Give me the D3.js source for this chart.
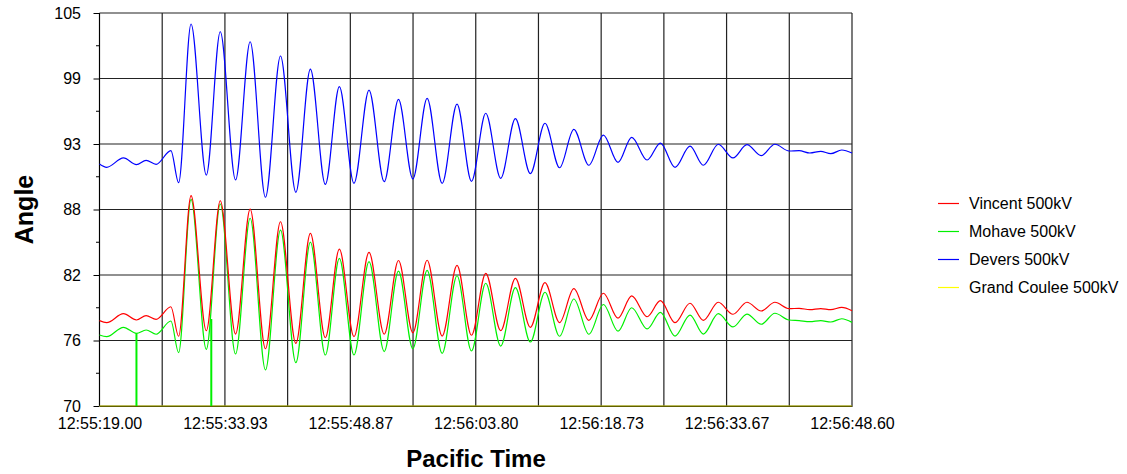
<!DOCTYPE html>
<html>
<head>
<meta charset="utf-8">
<script src="https://cdn.jsdelivr.net/npm/d3@7"></script>
<style>
  body { margin: 0; background: #fff; }
  text { font-family: "Liberation Sans", Arial, sans-serif; fill: #000; }
</style>
</head>
<body>
<div id="chart"></div>
<script>
// seconds after 12:55:19.00, read at the peaks / troughs of the swing
var times = [0, 0.85, 2.85, 4.40, 5.55, 6.74, 8.50,
  9.42, 10.90, 12.72, 14.38, 16.20, 17.94, 19.76, 21.55, 23.38, 25.11,
  26.89, 28.56, 30.30, 32.09, 33.90, 35.60, 37.31, 39.01, 40.80, 42.57,
  44.29, 45.99, 47.77, 49.52, 51.30, 53.04, 54.78, 56.48, 58.27, 60.00,
  61.74, 63.37, 65.20, 66.79, 68.53, 70.31, 71.90, 73.68, 75.43, 77.09,
  78.79, 80.42, 82.11, 83.30, 84.58, 85.88, 87.07, 88.38, 89.60];

var devers = [91.55, 91.26, 92.09, 91.49, 91.88, 91.52, 92.74,
  89.89, 104.02, 90.57, 103.33, 90.13, 102.44, 88.59, 101.17, 89.03, 100.01,
  89.74, 98.44, 89.83, 98.14, 89.98, 97.31, 90.22, 97.40, 89.83, 96.89,
  90.01, 96.07, 90.28, 95.59, 90.69, 95.18, 91.22, 94.64, 91.44, 94.13,
  91.70, 93.93, 91.91, 93.42, 91.26, 93.15, 91.44, 93.31, 92.09, 93.27,
  92.29, 93.31, 92.71, 92.74, 92.53, 92.68, 92.47, 92.80, 92.53];

var vincent = [77.60, 77.42, 78.22, 77.66, 78.04, 77.72, 78.84,
  76.21, 88.73, 76.71, 88.28, 76.41, 87.54, 75.10, 86.41, 75.58, 85.38,
  76.08, 83.98, 76.17, 83.69, 76.39, 82.96, 76.53, 82.98, 76.23, 82.53,
  76.30, 81.82, 76.71, 81.37, 77.01, 80.98, 77.42, 80.45, 77.63, 80.04,
  77.82, 79.80, 77.95, 79.38, 77.42, 79.15, 77.63, 79.24, 78.17, 79.24,
  78.46, 79.24, 78.67, 78.70, 78.58, 78.67, 78.58, 78.79, 78.49];

var mohave = [76.32, 76.17, 77.01, 76.47, 76.77, 76.39, 77.57,
  74.76, 88.41, 75.05, 87.99, 74.63, 86.72, 73.21, 85.67, 73.86, 84.60,
  74.54, 83.15, 74.54, 82.85, 74.85, 82.02, 75.10, 82.08, 74.69, 81.60,
  74.90, 80.93, 75.34, 80.54, 75.70, 80.13, 76.21, 79.53, 76.39, 79.04,
  76.66, 78.75, 76.86, 78.34, 76.23, 78.10, 76.41, 78.22, 77.04, 78.19,
  77.28, 78.26, 77.66, 77.60, 77.51, 77.60, 77.48, 77.77, 77.45];

// Mohave drop-outs (single samples going to the floor)
var mohaveDropTimes = [4.40, 13.31];
var mohaveDropFrom = [76.47, 77.75];

var grandCouleeTimes = [0, 89.60];
var grandCoulee = [70, 70];

var xTickLabels = ["12:55:19.00", "12:55:33.93", "12:55:48.87", "12:56:03.80",
  "12:56:18.73", "12:56:33.67", "12:56:48.60"];
var yTickLabels = ["70", "76", "82", "88", "93", "99", "105"];

var seriesNames = ["Vincent 500kV", "Mohave 500kV", "Devers 500kV", "Grand Coulee 500kV"];
var seriesColors = ["#ff0000", "#00f000", "#0000ff", "#ffff00"];

var svgWidth = 1127, svgHeight = 474;
var margin = { top: 13, left: 99.5, right: 275, bottom: 68 };
var width = 852 - margin.left;
var height = 406 - margin.top;

var svg = d3.select("#chart").append("svg")
  .attr("width", svgWidth)
  .attr("height", svgHeight);

var chartGroup = svg.append("g")
  .attr("transform", `translate(${margin.left}, ${margin.top})`);

var tMax = 89.6;
var xScale = d3.scaleLinear().domain([0, tMax]).range([0, width]);
var yScale = d3.scaleLinear().domain([70, 105]).range([height, 0]);

var xMajor = xTickLabels.map((d, i) => i * tMax / 6);
var xGrid = d3.range(13).map(i => i * tMax / 12);
var yMajor = yTickLabels.map((d, i) => 70 + i * 35 / 6);
var yMinor = d3.range(6).map(i => 70 + (i + 0.5) * 35 / 6);

// grid
chartGroup.append("g").selectAll("line")
  .data(xGrid).enter().append("line")
  .attr("x1", d => xScale(d)).attr("x2", d => xScale(d))
  .attr("y1", 0).attr("y2", height)
  .attr("stroke", "#222").attr("stroke-width", 1.2);
chartGroup.append("g").selectAll("line")
  .data(yMajor).enter().append("line")
  .attr("x1", 0).attr("x2", width)
  .attr("y1", d => yScale(d)).attr("y2", d => yScale(d))
  .attr("stroke", "#222").attr("stroke-width", 1.2);

// y axis
var yAxis = d3.axisLeft(yScale)
  .tickValues(yMajor)
  .tickFormat((d, i) => yTickLabels[i])
  .tickSize(6)
  .tickPadding(12.5);
var yAxisG = chartGroup.append("g").call(yAxis);
yAxisG.select(".domain").attr("stroke", "#000").attr("d", `M0,0V${height}`);
yAxisG.selectAll("text").style("font-size", "16px").attr("fill", "#000");
yAxisG.selectAll(".tick line").attr("stroke", "#000");

chartGroup.append("g").selectAll("line")
  .data(yMinor).enter().append("line")
  .attr("x1", -3.5).attr("x2", 0)
  .attr("y1", d => yScale(d)).attr("y2", d => yScale(d))
  .attr("stroke", "#000");

// x axis labels
var xAxis = d3.axisBottom(xScale)
  .tickValues(xMajor)
  .tickFormat((d, i) => xTickLabels[i])
  .tickSize(0)
  .tickPadding(12);
var xAxisG = chartGroup.append("g")
  .attr("transform", `translate(0, ${height})`)
  .call(xAxis);
xAxisG.select(".domain").attr("stroke", "#000");
xAxisG.selectAll("text").style("font-size", "16px").attr("fill", "#000");

// series
var line = d3.line()
  .x(d => xScale(d[0]))
  .y(d => yScale(d[1]))
  .curve(d3.curveMonotoneX);

var seriesData = [
  times.map((t, i) => [t, vincent[i]]),
  times.map((t, i) => [t, mohave[i]]),
  times.map((t, i) => [t, devers[i]]),
  grandCouleeTimes.map((t, i) => [t, grandCoulee[i]])
];

chartGroup.append("path")
  .datum(seriesData[3])
  .attr("d", line)
  .attr("fill", "none")
  .attr("stroke", seriesColors[3])
  .attr("stroke-opacity", 0.5)
  .attr("stroke-width", 1.5);

chartGroup.append("g").selectAll("line")
  .data(mohaveDropTimes).enter().append("line")
  .attr("x1", d => xScale(d)).attr("x2", d => xScale(d))
  .attr("y1", (d, i) => yScale(mohaveDropFrom[i]))
  .attr("y2", yScale(70))
  .attr("stroke", seriesColors[1])
  .attr("stroke-width", 2);

[1, 0, 2].forEach(function(k) {
  chartGroup.append("path")
    .datum(seriesData[k])
    .attr("d", line)
    .attr("fill", "none")
    .attr("stroke", seriesColors[k])
    .attr("stroke-width", 1.2);
});

// axis titles
svg.append("text")
  .attr("transform", "translate(33, 209.5) rotate(-90)")
  .attr("text-anchor", "middle")
  .style("font-size", "25px")
  .style("font-weight", "bold")
  .text("Angle");

svg.append("text")
  .attr("x", 476)
  .attr("y", 467)
  .attr("text-anchor", "middle")
  .style("font-size", "24px")
  .style("font-weight", "bold")
  .text("Pacific Time");

// legend
var legend = svg.append("g")
  .attr("transform", "translate(938, 203)");
var rows = legend.selectAll("g")
  .data(seriesNames).enter().append("g")
  .attr("transform", (d, i) => `translate(0, ${i * 28})`);
rows.append("line")
  .attr("x1", 0).attr("x2", 21)
  .attr("y1", 0.5).attr("y2", 0.5)
  .attr("stroke", (d, i) => seriesColors[i])
  .attr("stroke-width", 1.2);
rows.append("text")
  .attr("x", 31)
  .attr("y", 0)
  .attr("dy", "0.36em")
  .style("font-size", "16px")
  .text(d => d);
</script>
</body>
</html>
